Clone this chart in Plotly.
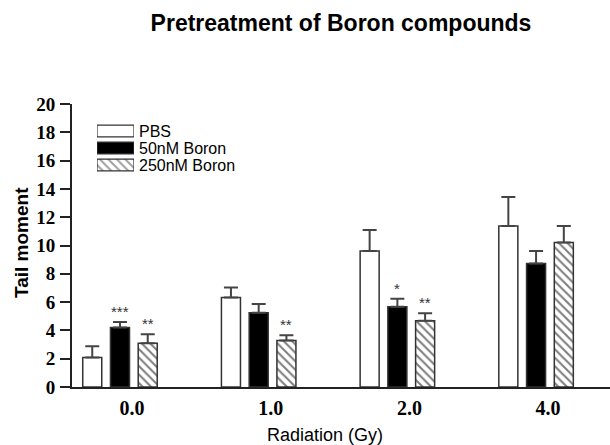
import plotly.graph_objects as go

# ---- data ----
categories = ["0.0", "1.0", "2.0", "4.0"]
series_names = ["PBS", "50nM Boron", "250nM Boron"]
pbs_mean = [2.08, 6.33, 9.62, 11.38]
pbs_err = [0.80, 0.71, 1.48, 2.05]
b50_mean = [4.21, 5.24, 5.67, 8.73]
b50_err = [0.38, 0.62, 0.56, 0.89]
b250_mean = [3.10, 3.29, 4.68, 10.21]
b250_err = [0.62, 0.36, 0.54, 1.17]
b50_stars = ["***", "", "*", ""]
b250_stars = ["**", "**", "**", ""]
y_ticks = [0, 2, 4, 6, 8, 10, 12, 14, 16, 18, 20]

# ---- layout constants ----
W, H = 610, 445
ML, MR, MT, MB = 72, 0, 104, 58
PW = W - ML - MR
PH = H - MT - MB

def px_x(p):  # pixel x -> paper
    return (p - ML) / PW

def px_y(p):  # pixel y -> paper
    return (H - MB - p) / PH

EDGE = "#333333"
ERRC = "#444444"
HATCH = dict(shape="\\", fgcolor="black", bgcolor="white", size=6, solidity=0.35)

fig = go.Figure()

styles = [
    dict(color="white", pattern=dict(shape="")),
    dict(color="black", pattern=dict(shape="")),
    dict(color="white", pattern=HATCH),
]
means = [pbs_mean, b50_mean, b250_mean]
errs = [pbs_err, b50_err, b250_err]

for name, m, e, st in zip(series_names, means, errs, styles):
    fig.add_trace(go.Bar(
        x=categories, y=m, name=name, showlegend=False,
        marker=dict(color=st["color"], pattern=st["pattern"],
                    line=dict(color=EDGE, width=1.5)),
        error_y=dict(type="data", array=e, arrayminus=[0] * len(e), symmetric=False,
                     color=ERRC, thickness=2, width=7),
        xaxis="x", yaxis="y",
    ))

# significance stars
slot = 138.7 * 0.2
for stars, m, e, off in [(b50_stars, b50_mean, b50_err, 0.0), (b250_stars, b250_mean, b250_err, slot)]:
    for c, s, mv, ev in zip(categories, stars, m, e):
        if s:
            fig.add_annotation(x=c, y=mv + ev, xref="x", yref="y", text=s, showarrow=False,
                               xshift=off, yshift=0, yanchor="bottom",
                               font=dict(family="Liberation Sans", size=15, color="#333333"))

# custom legend (wide swatches) on an overlay axis
fig.add_trace(go.Bar(
    y=[0, 1, 2], x=[1, 1, 1], orientation="h", width=[0.7, 0.7, 0.7],
    marker=dict(color=["white", "black", "white"],
                pattern=dict(shape=["", "", "\\"], fgcolor="black", bgcolor="white", size=6, solidity=0.35),
                line=dict(color=EDGE, width=1.2)),
    xaxis="x2", yaxis="y2", showlegend=False, hoverinfo="skip",
))
for i, n in enumerate(series_names):
    fig.add_annotation(x=1, y=i, xref="x2", yref="y2", text=n, showarrow=False,
                       xanchor="left", xshift=3,
                       font=dict(family="Liberation Sans", size=16, color="black"))

# axis titles
fig.add_annotation(x=px_x(21), y=px_y(243), xref="paper", yref="paper", text="<b>Tail moment</b>",
                   textangle=-90, showarrow=False, xanchor="center", yanchor="middle",
                   font=dict(family="Liberation Sans", size=19, color="black"))
fig.add_annotation(x=px_x(325), y=px_y(435), xref="paper", yref="paper", text="Radiation (Gy)",
                   showarrow=False, xanchor="center", yanchor="middle",
                   font=dict(family="Liberation Sans", size=18, color="black"))

fig.update_layout(
    width=W, height=H,
    margin=dict(l=ML, r=MR, t=MT, b=MB, pad=0),
    paper_bgcolor="white", plot_bgcolor="white",
    barmode="group", bargap=0.4, bargroupgap=0.314,
    title=dict(text="<b>Pretreatment of Boron compounds</b>", x=341 / W, xanchor="center",
               y=1 - 23 / H, yanchor="middle", yref="container",
               font=dict(family="Liberation Sans", size=23, color="black")),
    xaxis=dict(type="category", range=[-0.346, 3.533], showline=True, linecolor="#222222", linewidth=2,
               ticks="", showgrid=False, zeroline=False, ticklabelshift=12, ticklabelstandoff=2,
               tickfont=dict(family="Liberation Serif", size=20, color="black", weight="bold")),
    yaxis=dict(range=[0, 20], tickvals=y_ticks, showline=True, linecolor="#222222", linewidth=2,
               ticks="outside", ticklen=10, tickwidth=2, tickcolor="#222222",
               showgrid=False, zeroline=False, ticklabelstandoff=1,
               tickfont=dict(family="Liberation Serif", size=19, color="black", weight="bold")),
    xaxis2=dict(domain=[px_x(97), px_x(134)], range=[0, 1], visible=False, anchor="y2"),
    yaxis2=dict(domain=[px_y(173.5), px_y(122.5)], range=[2.5, -0.5], visible=False, anchor="x2"),
    showlegend=False,
)

fig.write_html("out.html", config={"displayModeBar": False},
               post_script="document.body.style.margin='0';")
